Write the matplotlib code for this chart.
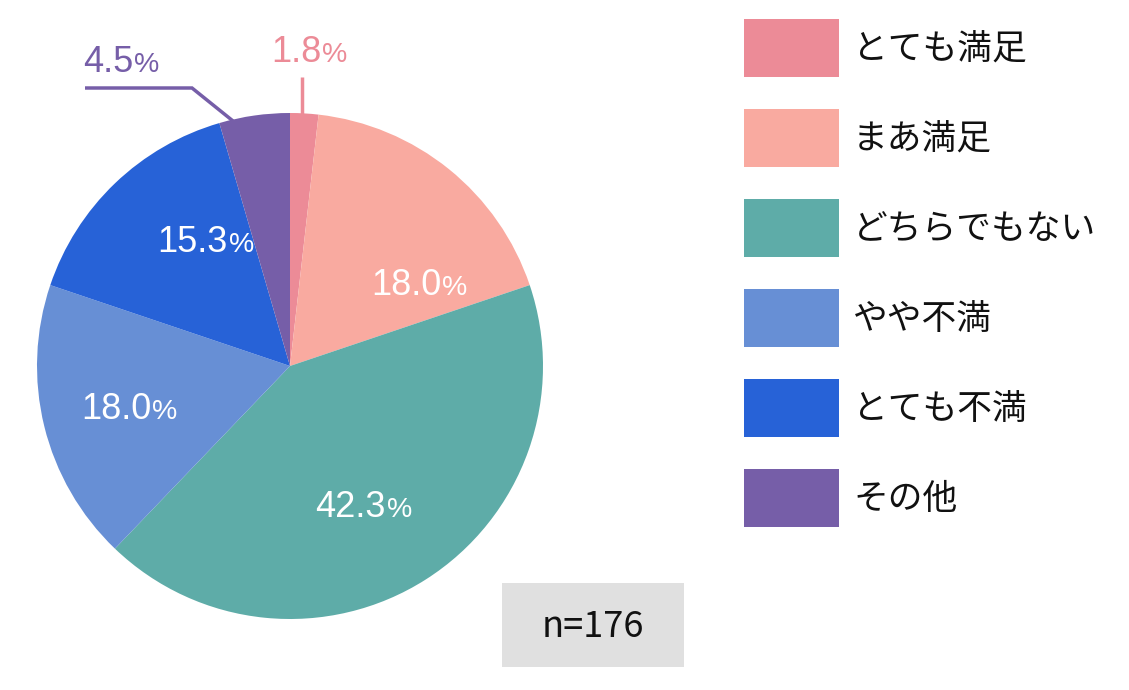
import matplotlib.pyplot as plt
import matplotlib.patches as patches

plt.rcParams['font.family'] = ['Noto Sans CJK JP', 'DejaVu Sans']

labels = ["とても満足", "まあ満足", "どちらでもない", "やや不満", "とても不満", "その他"]
values = [1.8, 18.0, 42.3, 18.0, 15.3, 4.5]
colors = ["#ec8b97", "#f9aaa0", "#5eaca8", "#678fd5", "#2762d7", "#765ea8"]
n_total = 176

W, H = 1129, 690
fig = plt.figure(figsize=(W / 100, H / 100), dpi=100)
ax = fig.add_axes([0, 0, 1, 1])


def py(y):
    # pixel row -> data y
    return H - y


cx, cy, R = 290, 366, 253
ax.pie(values, colors=colors, startangle=90, counterclock=False,
       center=(cx, py(cy)), radius=R, frame=True,
       wedgeprops={"linewidth": 0})
ax.set_xlim(0, W)
ax.set_ylim(0, H)
ax.axis("off")

# label anchor: x where number ends / % begins, baseline row (pixels)
label_pos = [(321, 62), (441, 295), (386, 517), (151, 419), (228, 252), (133, 72)]
label_col = [colors[0], "white", "white", "white", "white", colors[5]]

num_font = ["Liberation Sans", "DejaVu Sans"]
for v, (x, y), c in zip(values, label_pos, label_col):
    s = "{:.1f}".format(v)
    ax.text(x, py(y), s, ha="right", va="baseline",
            fontsize=26, color=c, family=num_font)
    ax.text(x + 1, py(y), "%", ha="left", va="baseline",
            fontsize=20.5, color=c, family=num_font)

# leader lines for small slices
ax.plot([302, 302], [py(77), py(114)], color=colors[0], lw=2.5,
        solid_capstyle="butt")
ax.plot([85, 192, 233], [py(88), py(88), py(121)], color=colors[5], lw=2.5,
        solid_capstyle="butt", solid_joinstyle="miter")

# legend
for i, (lab, c) in enumerate(zip(labels, colors)):
    top = 19 + 90 * i
    ax.add_patch(patches.Rectangle((744, py(top + 58)), 95, 58,
                                   facecolor=c, edgecolor="none"))
    ax.text(853, py(top + 31), lab, ha="left", va="center",
            fontsize=25, color="#111111")

# sample size box
ax.add_patch(patches.Rectangle((502, py(667)), 182, 84,
                               facecolor="#e0e0e0", edgecolor="none"))
ax.text(593, py(627), "n={}".format(n_total), ha="center", va="center",
        fontsize=26, color="#111111")

fig.savefig("out.png", dpi=100)
